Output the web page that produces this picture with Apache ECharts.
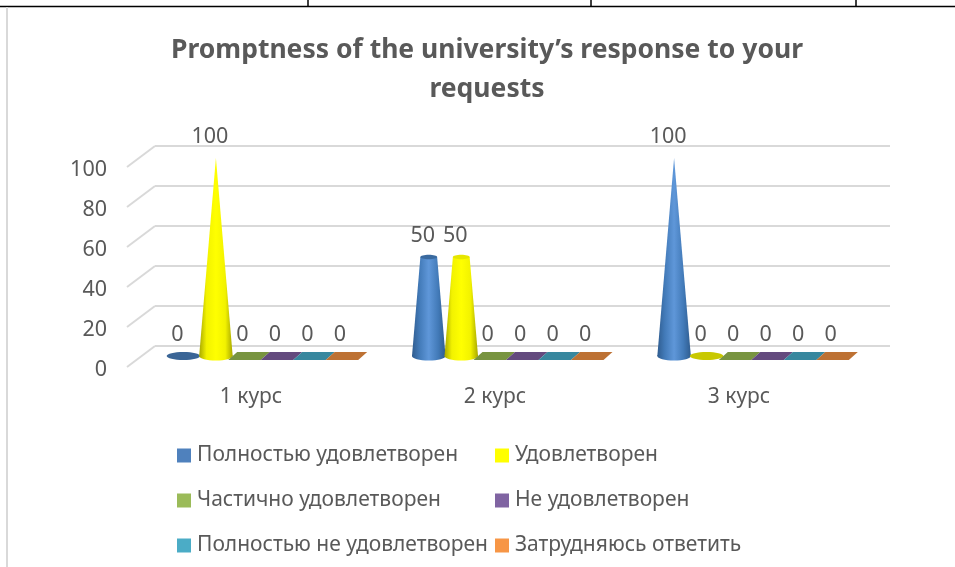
<!DOCTYPE html>
<html>
<head>
<meta charset="utf-8">
<style>html,body{margin:0;padding:0;background:#fff}#chart{width:955px;height:567px}</style>
<script src="https://cdn.jsdelivr.net/npm/echarts@6/dist/echarts.min.js"></script>
</head>
<body>
<div id="chart"></div>
<script>
const categories = ['1 курс', '2 курс', '3 курс']
const seriesNames = ['Полностью удовлетворен', 'Удовлетворен', 'Частично удовлетворен', 'Не удовлетворен', 'Полностью не удовлетворен', 'Затрудняюсь ответить']
const fullySatisfied = [0, 50, 100]
const satisfied = [100, 50, 0]
const partlySatisfied = [0, 0, 0]
const notSatisfied = [0, 0, 0]
const fullyNotSatisfied = [0, 0, 0]
const hardToSay = [0, 0, 0]
const yTicks = [0, 20, 40, 60, 80, 100]

const values = [fullySatisfied, satisfied, partlySatisfied, notSatisfied, fullyNotSatisfied, hardToSay]
const legendColors = ['#4f81bd', '#ffff00', '#9bbb59', '#8064a2', '#4bacc6', '#f79646']
const floorColors = ['#3a6596', '#c8c800', '#789440', '#634a7e', '#37879e', '#bd7133']
const coneEdge = ['#2f5c8f', '#a8a800']
const coneShade = ['#427ab8', '#f2f200']
const coneMid = ['#5f97d9', '#ffff00']
const FONT = '"Noto Sans"'
const TXT = '#595959'
const STEP = 32.5 // ширина одного столбика

function coneFill(i) {
  return new echarts.graphic.LinearGradient(0, 0, 1, 0, [
    { offset: 0, color: coneEdge[i] },
    { offset: 0.22, color: coneShade[i] },
    { offset: 0.5, color: coneMid[i] },
    { offset: 0.78, color: coneShade[i] },
    { offset: 1, color: coneEdge[i] }
  ])
}

// конус или плоская плашка для нулевых значений
function renderMark(si, params, api) {
  const val = api.value(1)
  const idx = api.value(0)
  const base = api.coord([idx, 0])
  const top = api.coord([idx, val])
  const peak = api.coord([idx, 100])
  const cx = base[0] + (si - 2.5) * STEP
  const rx = STEP / 2 + 0.5
  const ry = 4.5
  const children = []
  if (val === 0) {
    if (si < 2) {
      children.push({ type: 'ellipse', shape: { cx: cx, cy: base[1], rx: rx, ry: ry - 0.5 }, style: { fill: floorColors[si] } })
    } else {
      const w = STEP / 2
      children.push({
        type: 'polygon',
        shape: { points: [[cx - w - 4, base[1] + 4], [cx + w - 4, base[1] + 4], [cx + w + 5, base[1] - 4], [cx - w + 5, base[1] - 4]] },
        style: { fill: floorColors[si] }
      })
    }
  } else {
    const ratio = (top[1] - peak[1]) / (base[1] - peak[1])
    const topRx = rx * ratio
    children.push({ type: 'ellipse', shape: { cx: cx, cy: base[1], rx: rx, ry: ry }, style: { fill: coneFill(si) } })
    children.push({
      type: 'polygon',
      shape: { points: [[cx - rx, base[1]], [cx + rx, base[1]], [cx + topRx, top[1]], [cx - topRx, top[1]]] },
      style: { fill: coneFill(si) }
    })
    if (ratio > 0) {
      children.push({ type: 'ellipse', shape: { cx: cx, cy: top[1], rx: topRx, ry: ry * ratio }, style: { fill: si ? '#e6e600' : '#3a6a9f' } })
    }
  }
  children.push({
    type: 'text',
    style: { text: String(val), x: cx - 6, y: top[1] - 21, align: 'center', verticalAlign: 'middle', fill: TXT, font: '21.5px ' + FONT }
  })
  return { type: 'group', children: children }
}

const chart = echarts.init(document.getElementById('chart'), null, { renderer: 'canvas' })

const option = {
  animation: false,
  backgroundColor: '#fff',
  title: {
    text: 'Promptness of the university’s response to your\nrequests',
    left: 482,
    top: 26,
    textAlign: 'center',
    textStyle: { fontFamily: FONT, fontWeight: 'bold', fontSize: 26.5, lineHeight: 39, color: TXT }
  },
  legend: [
    {
      orient: 'vertical', left: 172, top: 440, itemGap: 24, itemWidth: 14, itemHeight: 14, icon: 'rect',
      data: [seriesNames[0], seriesNames[2], seriesNames[4]],
      textStyle: { fontFamily: FONT, fontSize: 21, color: TXT, padding: [0, 0, 0, 1] }
    },
    {
      orient: 'vertical', left: 490, top: 440, itemGap: 24, itemWidth: 14, itemHeight: 14, icon: 'rect',
      data: [seriesNames[1], seriesNames[3], seriesNames[5]],
      textStyle: { fontFamily: FONT, fontSize: 21, color: TXT, padding: [0, 0, 0, 1] }
    }
  ],
  // задняя стенка, передняя шкала и плоскость самих конусов
  grid: [
    { left: 155, width: 735, top: 145.5, height: 200.5 },
    { left: 129, width: 732, top: 170, height: 200 },
    { left: 142, width: 736, top: 158, height: 198 }
  ],
  xAxis: [
    { gridIndex: 0, type: 'category', data: categories, show: false },
    {
      gridIndex: 1, type: 'category', data: categories,
      axisLine: { show: false }, axisTick: { show: false },
      axisLabel: { fontFamily: FONT, fontSize: 21, color: TXT, margin: 17 }
    },
    { gridIndex: 2, type: 'category', data: categories, show: false }
  ],
  yAxis: [
    {
      gridIndex: 0, type: 'value', min: 0, max: 100, interval: 20,
      axisLine: { show: false }, axisTick: { show: false }, axisLabel: { show: false },
      splitLine: { lineStyle: { color: '#d9d9d9', width: 2 } }
    },
    {
      gridIndex: 1, type: 'value', min: 0, max: 100, interval: 20,
      axisLine: { show: false }, axisTick: { show: false }, splitLine: { show: false },
      axisLabel: { fontFamily: FONT, fontSize: 21.5, color: TXT, margin: 22 }
    },
    { gridIndex: 2, type: 'value', min: 0, max: 100, show: false }
  ],
  graphic: [
    { type: 'line', shape: { x1: 0, y1: 6.5, x2: 955, y2: 6.5 }, style: { stroke: '#000', lineWidth: 1.5 } },
    { type: 'line', shape: { x1: 308, y1: 0, x2: 308, y2: 6 }, style: { stroke: '#000', lineWidth: 1.5 } },
    { type: 'line', shape: { x1: 591, y1: 0, x2: 591, y2: 6 }, style: { stroke: '#000', lineWidth: 1.5 } },
    { type: 'line', shape: { x1: 856, y1: 0, x2: 856, y2: 6 }, style: { stroke: '#000', lineWidth: 1.5 } },
    { type: 'line', shape: { x1: 7, y1: 7, x2: 7, y2: 567 }, style: { stroke: '#d9d9d9', lineWidth: 2 } }
  ],
  series: [
    {
      // диагонали боковой стенки, подписи шкалы стоят на 3px ниже начала диагонали
      type: 'custom',
      xAxisIndex: 1,
      yAxisIndex: 1,
      silent: true,
      data: yTicks.map(t => [0, t]),
      encode: { x: 0, y: 1 },
      renderItem(params, api) {
        const y = api.coord([0, api.value(1)])[1] - 3
        const x = params.coordSys.x - 2
        return { type: 'line', shape: { x1: x, y1: y, x2: x + 28, y2: y - 21 }, style: { stroke: '#d9d9d9', lineWidth: 2 } }
      }
    }
  ].concat(seriesNames.map((name, si) => ({
    name: name,
    type: 'custom',
    xAxisIndex: 2,
    yAxisIndex: 2,
    z: 3 + si,
    itemStyle: { color: legendColors[si] },
    data: values[si].map((v, i) => [i, v]),
    encode: { x: 0, y: 1 },
    renderItem: (params, api) => renderMark(si, params, api)
  })))
}
chart.setOption(option)
</script>
</body>
</html>
